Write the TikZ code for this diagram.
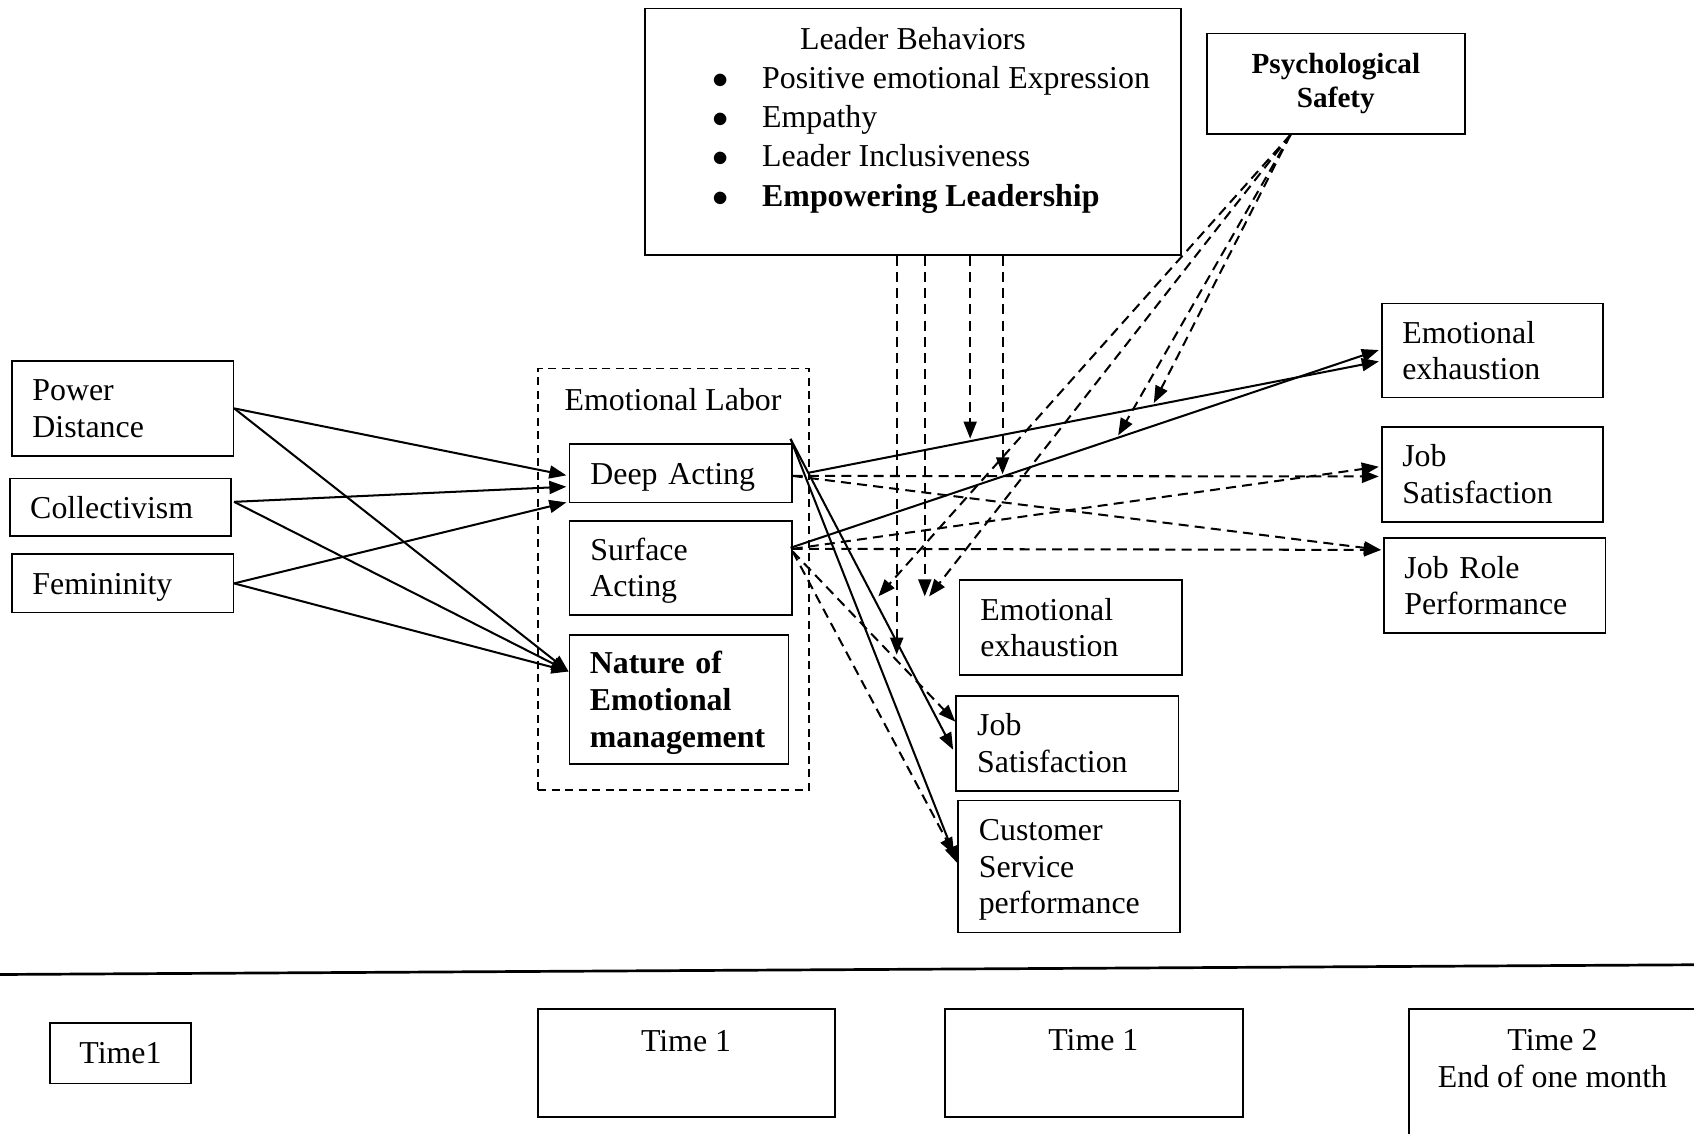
\documentclass[tikz,border=0pt]{standalone}
\usepackage{fontspec}
\setmainfont{Liberation Serif}
\usetikzlibrary{arrows.meta,calc}
\begin{document}
\begin{tikzpicture}[x=0.4pt,y=-0.4pt,
  txt/.style={font=\fontsize{11.8}{13.6}\selectfont},
  box/.style={draw, line width=0.6pt, minimum width=82pt, text width=66.8pt, inner xsep=7.6pt, inner ysep=0pt, align=left, txt, text height=8pt, text depth=0pt},
  two/.style={text depth=13.6pt},
  three/.style={text depth=27.2pt},
  plain/.style={draw, line width=0.6pt, inner sep=0pt},
  tip/.style={-{Triangle[length=6.3pt,width=4.8pt]}},
  sol/.style={line width=0.75pt, tip},
  dsh/.style={line width=0.75pt, dash pattern=on 3.7pt off 2.3pt, tip},
]
\useasboundingbox (0,0) rectangle (1568,1049);

% Leader behaviors box
\node[plain, minimum width=198.4pt, minimum height=91.2pt] (lb) at (845,122) {};
\node[txt, anchor=base] (lbt) at (845,46) {Leader Behaviors};
\node[txt, anchor=base, inner sep=0pt] (b1) at (667,82) {$\bullet$};
\node[txt, anchor=base, inner sep=0pt] (b2) at (667,118) {$\bullet$};
\node[txt, anchor=base, inner sep=0pt] (b3) at (667,154) {$\bullet$};
\node[txt, anchor=base, inner sep=0pt] (b4) at (667,191) {$\bullet$};
\node[txt, anchor=base west, inner sep=0pt] (i1) at (705,82) {Positive emotional Expression};
\node[txt, anchor=base west, inner sep=0pt] (i2) at (705,118) {Empathy};
\node[txt, anchor=base west, inner sep=0pt] (i3) at (705,154) {Leader Inclusiveness};
\node[txt, anchor=base west, inner sep=0pt] (i4) at (705,191) {\bfseries Empowering Leadership};

% Psychological safety
\node[plain, minimum width=95.6pt, minimum height=37.2pt, align=center,
      font=\fontsize{10.8}{12.4}\selectfont\bfseries] (ps) at (1236.5,77.5) {Psychological\\Safety};

% Left boxes
\node[box, two, minimum height=35.2pt] (pd) at (113.5,378) {Power\\Distance};
\node[box, minimum height=21.2pt] (col) at (111.5,469.5) {Collectivism};
\node[box, minimum height=21.6pt] (fem) at (113.5,540) {Femininity};

% Emotional labor group
\node[draw, dash pattern=on 3pt off 2pt, line width=0.6pt, minimum width=100.4pt, minimum height=156pt, inner sep=0pt] (el) at (623.5,536) {};
\node[txt, anchor=base] (elt) at (623,380) {Emotional Labor};
\node[box, minimum width=82.4pt, minimum height=21.6pt] (da) at (630,438) {Deep Acting};
\node[box, two, minimum width=82.4pt, minimum height=34.8pt] (sa) at (630,525.5) {Surface\\Acting};
\node[box, three, minimum width=81.2pt, text width=66pt, minimum height=47.6pt, font=\fontsize{11.8}{13.6}\selectfont\bfseries] (nem) at (628.5,647.5) {Nature of\\Emotional\\management};

% Middle outcomes
\node[box, two, minimum width=82.4pt, minimum height=35.2pt] (ee1) at (991,581) {Emotional\\exhaustion};
\node[box, two, minimum width=82.4pt, minimum height=35.2pt] (js1) at (988,688) {Job\\Satisfaction};
\node[box, three, minimum height=48.8pt] (cs) at (989.5,802) {Customer\\Service\\performance};

% Right outcomes
\node[box, two, minimum height=34.8pt] (ee2) at (1381.5,324.5) {Emotional\\exhaustion};
\node[box, two, minimum height=35.2pt] (js2) at (1381.5,439) {Job\\Satisfaction};
\node[box, two, minimum height=35.2pt] (jrp) at (1383.5,542) {Job Role\\Performance};

% Separator
\coordinate (sl) at (0,902);
\coordinate (sr) at (1568,893);
\draw[line width=1pt] (sl) -- (sr);

% Time boxes
\node[plain, minimum width=52.4pt, minimum height=22.4pt, txt] (t0) at (111.5,975) {Time1};
\node[plain, minimum width=110pt, minimum height=40pt] (t1) at (635.5,984) {};
\node[txt, anchor=base] (t1t) at (635,973) {Time 1};
\node[plain, minimum width=110.4pt, minimum height=40pt] (t2) at (1012.5,984) {};
\node[txt, anchor=base] (t2t) at (1012,972) {Time 1};
\node[plain, minimum width=107.2pt, minimum height=52pt] (t3) at (1438,999) {};
\node[txt, anchor=base] (t3a) at (1437,972) {Time 2};
\node[txt, anchor=base] (t3b) at (1437,1007) {End of one month};

% Left connectors
\draw[sol] (pd.east) -- ($(da.west)+(-2,2)$);
\draw[sol] (pd.east) -- ($(nem.west)+(0,-26)$);
\draw[sol] ($(col.east)+(2,-5)$) -- ($(da.west)+(-2,12.5)$);
\draw[sol] ($(col.east)+(2,-5)$) -- ($(nem.west)+(0,-26)$);
\draw[sol] (fem.east) -- ($(da.west)+(-2,27)$);
\draw[sol] (fem.east) -- ($(nem.west)+(0,-26)$);

% Right connectors
\draw[sol] ($(da.east)+(15,-0.5)$) -- ($(ee2.west)+(-2,10)$);
\draw[sol] ($(sa.east)+(-2,-18.5)$) -- ($(ee2.west)+(-2,-0.5)$);
\draw[dsh] ($(da.east)+(0,2.5)$) -- ($(js2.west)+(-2,2)$);
\draw[dsh] ($(sa.east)+(0,-17.5)$) -- ($(js2.west)+(-2,-7)$);
\draw[dsh] ($(da.east)+(0,2.5)$) -- ($(jrp.west)+(-2,-33)$);
\draw[dsh] ($(sa.east)+(0,-17.5)$) -- ($(jrp.west)+(-2,-33)$);
\draw[sol] ($(da.north east)+(-2,-4)$) -- ($(js1.west)+(-2,6)$);
\draw[sol] ($(da.north east)+(-2,-4)$) -- ($(cs.west)+(0,-3)$);
\draw[dsh] ($(sa.east)+(0,-15)$) -- ($(js1.west)+(0,-20)$);
\draw[dsh] ($(sa.east)+(0,-15)$) -- ($(cs.west)+(-3,-11)$);

% Leader behaviour moderating arrows
\coordinate (v1) at (830,606);
\coordinate (v2) at (856,552);
\coordinate (v3) at (898,406);
\coordinate (v4) at (928,439);
\draw[dsh] ($(lb.south)+(-15,0)$) -- (v1);
\draw[dsh] ($(lb.south)+(11,0)$) -- (v2);
\draw[dsh] ($(lb.south)+(53,0)$) -- (v3);
\draw[dsh] ($(lb.south)+(83,0)$) -- (v4);

% Psychological safety moderating arrows
\coordinate (p1) at (813,552);
\coordinate (p2) at (860,552);
\coordinate (p3) at (1068,373);
\coordinate (p4) at (1035,403);
\draw[dsh] ($(ps.south)+(-42,0)$) -- (p1);
\draw[dsh] ($(ps.south)+(-42,0)$) -- (p2);
\draw[dsh] ($(ps.south)+(-42,0)$) -- (p3);
\draw[dsh] ($(ps.south)+(-42,0)$) -- (p4);
\end{tikzpicture}
\end{document}
